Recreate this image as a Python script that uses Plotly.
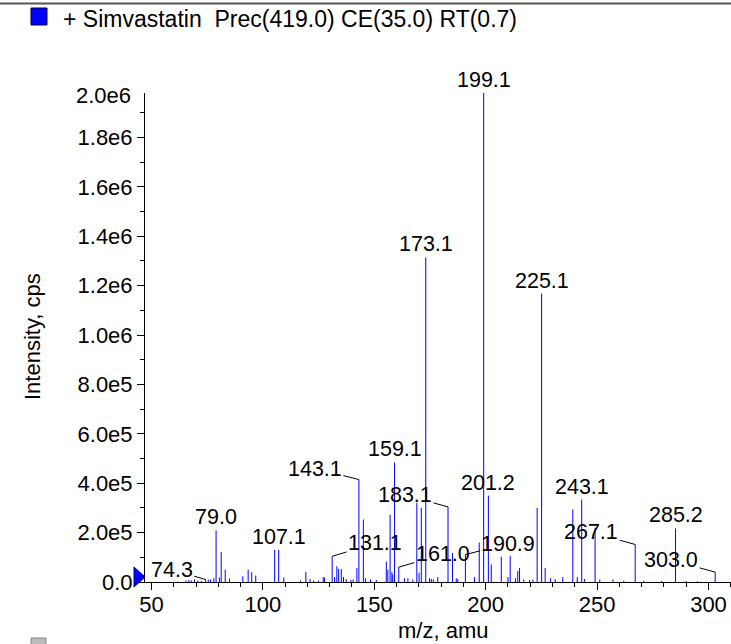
import plotly.graph_objects as go

# ---------------- data ----------------
label_mz = [74.3, 79.0, 107.1, 131.1, 143.1, 159.1, 161.0, 173.1, 183.1,
            190.9, 199.1, 201.2, 225.1, 243.1, 267.1, 285.2, 303.0]
label_int = [0.010e6, 0.209e6, 0.130e6, 0.104e6, 0.415e6, 0.484e6, 0.060e6,
             1.314e6, 0.304e6, 0.111e6, 1.980e6, 0.350e6, 1.168e6, 0.334e6,
             0.152e6, 0.217e6, 0.040e6]

other_mz = [65.5, 66.8, 67.8, 69.3, 70.8, 72.5, 75.5, 76.5, 78.0, 80.5, 81.3,
            83.1, 85.0, 91.0, 93.4, 95.0, 96.8,
            105.3, 109.4, 116.9, 119.3, 121.2, 122.8, 125.0, 127.1, 127.7,
            132.2, 133.2, 134.0, 135.2, 136.2, 137.4, 139.5, 140.5, 142.2,
            145.1, 146.1, 148.3, 150.9, 155.4, 156.1, 157.1, 157.9, 158.3,
            163.6, 165.1, 167.3, 169.1, 170.1, 171.1, 174.8, 175.6, 176.5,
            178.5, 185.1, 186.8, 187.5, 195.0, 197.1, 202.5, 207.0, 210.0,
            211.0, 213.4, 214.4, 215.2, 217.1, 219.7, 221.2, 223.1, 226.7,
            229.1, 231.2, 234.6, 239.1, 241.1, 244.4, 249.1, 251.2, 257.1,
            262.0, 271.0, 279.0, 290.0, 295.0]
other_int = [0.006e6, 0.008e6, 0.007e6, 0.010e6, 0.006e6, 0.004e6, 0.010e6,
             0.010e6, 0.015e6, 0.018e6, 0.122e6, 0.050e6, 0.014e6, 0.023e6,
             0.050e6, 0.040e6, 0.026e6,
             0.130e6, 0.018e6, 0.006e6, 0.041e6, 0.012e6, 0.006e6, 0.006e6,
             0.020e6, 0.018e6,
             0.020e6, 0.064e6, 0.054e6, 0.052e6, 0.020e6, 0.012e6, 0.008e6,
             0.010e6, 0.057e6,
             0.253e6, 0.015e6, 0.010e6, 0.008e6, 0.082e6, 0.050e6, 0.273e6,
             0.040e6, 0.030e6,
             0.015e6, 0.015e6, 0.010e6, 0.320e6, 0.037e6, 0.300e6, 0.015e6,
             0.012e6, 0.010e6,
             0.020e6, 0.117e6, 0.015e6, 0.012e6, 0.020e6, 0.160e6, 0.071e6,
             0.102e6, 0.020e6,
             0.106e6, 0.015e6, 0.044e6, 0.057e6, 0.010e6, 0.008e6, 0.010e6,
             0.300e6, 0.057e6,
             0.015e6, 0.012e6, 0.020e6, 0.294e6, 0.020e6, 0.012e6, 0.219e6,
             0.010e6, 0.010e6,
             0.005e6, 0.005e6, 0.004e6, 0.004e6, 0.003e6]

y_tick_vals = [0, 2e5, 4e5, 6e5, 8e5, 1.0e6, 1.2e6, 1.4e6, 1.6e6, 1.8e6]
y_tick_text = ["0.0", "2.0e5", "4.0e5", "6.0e5", "8.0e5", "1.0e6", "1.2e6",
               "1.4e6", "1.6e6", "1.8e6"]
y_top_label = "2.0e6"
x_tick_vals = [50, 100, 150, 200, 250, 300]

legend_text = "+ Simvastatin&nbsp; Prec(419.0) CE(35.0) RT(0.7)"
x_title = "m/z, amu"
y_title = "Intensity, cps"

# ---------------- layout geometry ----------------
W, H = 731, 644
ML, MR, MT, MB = 145, 0, 93, 62
PW, PH = W - ML - MR, H - MT - MB
X_RANGE = [47.1, 310.1]
Y_RANGE = [0, 1.98e6]
FONT = "Liberation Sans, Arial, Helvetica, sans-serif"
TICK_SIZE = 22
LABEL_SIZE = 21.5


def px2paper_x(px):
    return (px - ML) / PW


def px2paper_y(py):
    return (H - MB - py) / PH


# label offsets: (ax, ay) in pixels for leader-line labels, None = centered above
label_offsets = {
    74.3: (-34, -10), 131.1: (43, -13), 143.1: (-44, -11), 161.0: (44, -13),
    183.1: (-43, -12), 190.9: (43, -11), 267.1: (-44, -12), 303.0: (-44, -12),
}

all_mz = label_mz + other_mz
all_int = label_int + other_int
xs, ys = [], []
for m, v in sorted(zip(all_mz, all_int)):
    xs += [m, m, None]
    ys += [0, v, None]

fig = go.Figure()
fig.add_trace(go.Scatter(x=xs, y=ys, mode="lines",
                         line=dict(color="#0000ff", width=1),
                         hoverinfo="skip", showlegend=False))

annotations = []
for m, v in zip(label_mz, label_int):
    txt = f"{m:.1f}"
    if m in label_offsets:
        ax, ay = label_offsets[m]
        annotations.append(dict(x=m, y=v, xref="x", yref="y", text=txt,
                                showarrow=True, arrowhead=0, arrowwidth=1,
                                arrowcolor="#000000", ax=ax, ay=ay,
                                font=dict(family=FONT, size=LABEL_SIZE,
                                          color="#000")))
    else:
        annotations.append(dict(x=m, y=v, xref="x", yref="y", text=txt,
                                showarrow=False, yanchor="middle", yshift=13,
                                font=dict(family=FONT, size=LABEL_SIZE,
                                          color="#000")))

# top y label
annotations.append(dict(x=px2paper_x(133), y=px2paper_y(95), xref="paper",
                        yref="paper", text=y_top_label, showarrow=False,
                        xanchor="right", yanchor="middle",
                        font=dict(family=FONT, size=TICK_SIZE, color="#000")))
# axis titles
annotations.append(dict(x=px2paper_x(443), y=px2paper_y(630), xref="paper",
                        yref="paper", text=x_title, showarrow=False,
                        xanchor="center", yanchor="middle",
                        font=dict(family=FONT, size=TICK_SIZE, color="#000")))
annotations.append(dict(x=px2paper_x(32), y=px2paper_y(337), xref="paper",
                        yref="paper", text=y_title, showarrow=False,
                        textangle=-90, xanchor="center", yanchor="middle",
                        font=dict(family=FONT, size=TICK_SIZE, color="#000")))
# legend text
annotations.append(dict(x=px2paper_x(61), y=px2paper_y(19), xref="paper",
                        yref="paper", text=legend_text, showarrow=False,
                        xanchor="left", yanchor="middle",
                        font=dict(family=FONT, size=23, color="#000")))

shapes = [
    # top frame band
    dict(type="rect", xref="paper", yref="paper", x0=px2paper_x(0),
         x1=px2paper_x(W), y0=px2paper_y(4.5), y1=px2paper_y(2.5),
         fillcolor="#555555", line=dict(width=0)),
    # legend square
    dict(type="rect", xref="paper", yref="paper", x0=px2paper_x(31),
         x1=px2paper_x(47), y0=px2paper_y(25), y1=px2paper_y(8),
         fillcolor="#0000ff", line=dict(color="#000044", width=1)),
    # grey square at bottom (cut off)
    dict(type="rect", xref="paper", yref="paper", x0=px2paper_x(31),
         x1=px2paper_x(46), y0=px2paper_y(650), y1=px2paper_y(638),
         fillcolor="#bbbbbb", line=dict(color="#888888", width=1)),
    # triangle marker at zero
    dict(type="path", xref="paper", yref="paper", xsizemode="pixel",
         ysizemode="pixel", xanchor=0, yanchor=0,
         path="M-11,15 L0,5 L-11,-5 Z", fillcolor="#0000ff",
         line=dict(color="#0000aa", width=1)),
]

fig.update_layout(
    width=W, height=H,
    margin=dict(l=ML, r=MR, t=MT, b=MB, pad=0),
    paper_bgcolor="white", plot_bgcolor="white",
    font=dict(family=FONT, size=TICK_SIZE, color="#000"),
    annotations=annotations, shapes=shapes, showlegend=False,
)
fig.update_xaxes(range=X_RANGE, tickvals=x_tick_vals, ticks="outside",
                 ticklen=7, tickcolor="#000", showline=True, linecolor="#000",
                 linewidth=1, showgrid=False, zeroline=False,
                 ticklabelstandoff=-4,
                 minor=dict(dtick=10, tick0=0, ticks="outside", ticklen=4,
                            tickcolor="#000"),
                 tickfont=dict(family=FONT, size=TICK_SIZE, color="#000"))
fig.update_yaxes(range=Y_RANGE, tickvals=y_tick_vals, ticktext=y_tick_text,
                 ticks="outside", ticklen=7, tickcolor="#000", showline=True,
                 linecolor="#000", linewidth=1, showgrid=False, zeroline=False,
                 minor=dict(dtick=1e5, tick0=0, ticks="outside", ticklen=4,
                            tickcolor="#000"),
                 tickfont=dict(family=FONT, size=TICK_SIZE, color="#000"))

fig.write_html("out.html",
               config={"displayModeBar": False},
               post_script="document.body.style.margin='0';"
                           "document.body.style.overflow='hidden';")
